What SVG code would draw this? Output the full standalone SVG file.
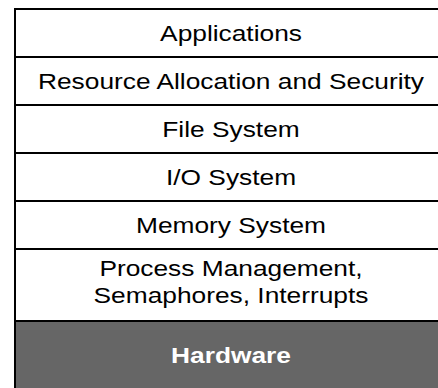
<svg xmlns="http://www.w3.org/2000/svg" width="438" height="388" viewBox="0 0 438 388">
  <style>
    .layer { fill: #ffffff; stroke: #000000; stroke-width: 2; }
    .hw { fill: #666666; stroke: #000000; stroke-width: 2; }
    .lbl { font-family: "Liberation Sans", Arial, sans-serif; font-size: 22.5px; fill: #000000; text-anchor: middle; }
    .hwlbl { font-family: "Liberation Sans", Arial, sans-serif; font-size: 22.5px; font-weight: bold; fill: #ffffff; text-anchor: middle; }
  </style>
  <rect width="438" height="388" fill="#ffffff"/>
  <!-- layer stack, top to bottom; labels are drawn slightly widened -->
  <g id="applications">
    <rect class="layer" x="15" y="9" width="430" height="48"/>
    <text class="lbl" transform="translate(231 41) scale(1.17 1)">Applications</text>
  </g>
  <g id="resource-allocation">
    <rect class="layer" x="15" y="57" width="430" height="48"/>
    <text class="lbl" transform="translate(231 89) scale(1.17 1)">Resource Allocation and Security</text>
  </g>
  <g id="file-system">
    <rect class="layer" x="15" y="105" width="430" height="48"/>
    <text class="lbl" transform="translate(231 137) scale(1.17 1)">File System</text>
  </g>
  <g id="io-system">
    <rect class="layer" x="15" y="153" width="430" height="48"/>
    <text class="lbl" transform="translate(231 185) scale(1.17 1)">I/O System</text>
  </g>
  <g id="memory-system">
    <rect class="layer" x="15" y="201" width="430" height="48"/>
    <text class="lbl" transform="translate(231 233) scale(1.17 1)">Memory System</text>
  </g>
  <g id="process-management">
    <rect class="layer" x="15" y="249" width="430" height="72"/>
    <text class="lbl" transform="translate(231 276) scale(1.17 1)">Process Management,</text>
    <text class="lbl" transform="translate(231 303) scale(1.17 1)">Semaphores, Interrupts</text>
  </g>
  <g id="hardware">
    <rect class="hw" x="15" y="321" width="430" height="80"/>
    <text class="hwlbl" transform="translate(231 363) scale(1.17 1)">Hardware</text>
  </g>
  <g id="connectors"/>
</svg>
